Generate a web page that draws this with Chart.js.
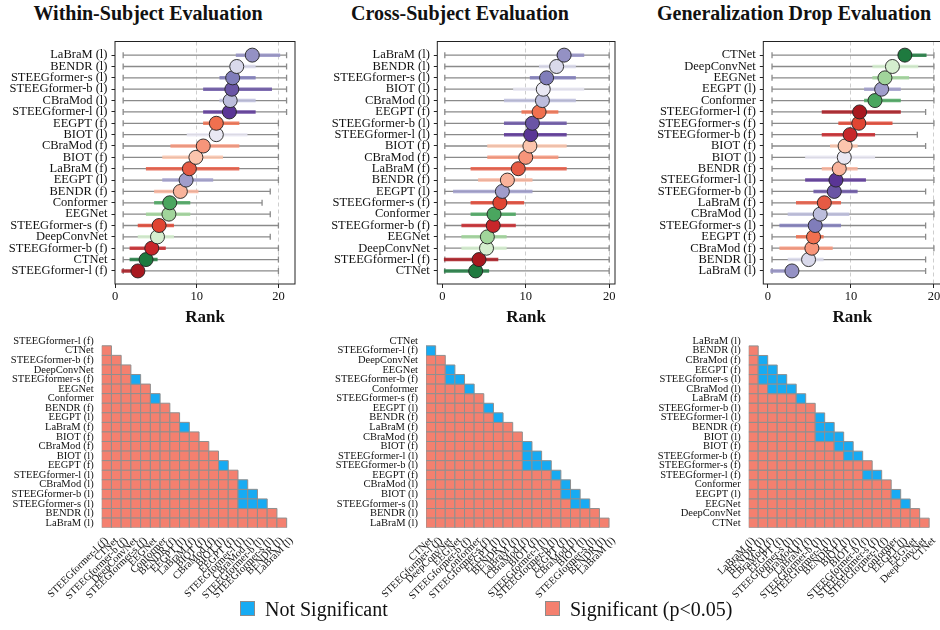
<!DOCTYPE html>
<html>
<head>
<meta charset="utf-8">
<script src="https://cdn.jsdelivr.net/npm/chart.js@4.4.0/dist/chart.umd.min.js"></script>
<style>
  body { margin: 0; background: #fff; overflow: hidden; font-family: "Liberation Serif", "Times New Roman", serif; }
  #fig { position: relative; width: 940px; height: 630px; }
  #fig canvas { position: absolute; }
  .title { position: absolute; top: 3px; font-size: 20px; line-height: 20px; font-weight: bold; color: #111; white-space: nowrap; transform: translateX(-50%); }
  .key { position: absolute; top: 601px; width: 13px; height: 13px; border: 1px solid #8c8c8c; }
  .keytext { position: absolute; top: 599px; font-size: 20px; line-height: 20px; color: #111; white-space: nowrap; }
</style>
</head>
<body>
<div id="fig">
  <div class="title" style="left:148px">Within-Subject Evaluation</div>
  <div class="title" style="left:460px">Cross-Subject Evaluation</div>
  <div class="title" style="left:794px">Generalization Drop Evaluation</div>

  <canvas id="rankWithin" width="305" height="300" style="left:0px;top:30px"></canvas>
  <canvas id="rankCross" width="320" height="300" style="left:305px;top:30px"></canvas>
  <canvas id="rankDrop" width="320" height="300" style="left:630px;top:30px"></canvas>

  <canvas id="sigWithin" width="310" height="278" style="left:0px;top:322px"></canvas>
  <canvas id="sigCross" width="330" height="278" style="left:300px;top:322px"></canvas>
  <canvas id="sigDrop" width="320" height="278" style="left:630px;top:322px"></canvas>

  <div id="legend"></div>
</div>

<script>
// models listed from lowest to highest mean rank, one list per evaluation
const withinModels = ['STEEGformer-l (f)', 'CTNet', 'STEEGformer-b (f)', 'DeepConvNet', 'STEEGformer-s (f)', 'EEGNet', 'Conformer', 'BENDR (f)', 'EEGPT (l)', 'LaBraM (f)', 'BIOT (f)', 'CBraMod (f)', 'BIOT (l)', 'EEGPT (f)', 'STEEGformer-l (l)', 'CBraMod (l)', 'STEEGformer-b (l)', 'STEEGformer-s (l)', 'BENDR (l)', 'LaBraM (l)'];
const withinMean = [2.8, 3.8, 4.5, 5.2, 5.4, 6.6, 6.7, 8.0, 8.7, 9.1, 9.9, 10.8, 12.4, 12.4, 14.0, 14.1, 14.3, 14.4, 14.9, 16.8];
const withinQ1 = [1, 2, 2, 3, 3, 4, 5, 5, 6, 4, 6, 7, 9, 11, 11, 13, 11, 13, 14.2, 15];
const withinQ3 = [3, 5, 6, 7, 7, 9, 9, 10, 11.8, 15, 13, 15, 16, 15, 17, 17, 19, 17, 17, 20];
const withinLow = [1, 1, 1, 1, 1, 1, 1, 1, 1, 1, 1, 1, 1, 1, 1, 1, 1, 1, 1, 1];
const withinHigh = [20, 20, 20, 19, 20, 19, 18, 19, 20, 20, 20, 20, 20, 20, 21, 21, 21, 21, 21, 21];

const crossModels = ['CTNet', 'STEEGformer-l (f)', 'DeepConvNet', 'EEGNet', 'STEEGformer-b (f)', 'Conformer', 'STEEGformer-s (f)', 'EEGPT (l)', 'BENDR (f)', 'LaBraM (f)', 'CBraMod (f)', 'BIOT (f)', 'STEEGformer-l (l)', 'STEEGformer-b (l)', 'EEGPT (f)', 'CBraMod (l)', 'BIOT (l)', 'STEEGformer-s (l)', 'BENDR (l)', 'LaBraM (l)'];
const crossMean = [4.0, 4.4, 5.3, 5.4, 6.1, 6.2, 6.9, 7.2, 7.8, 9.1, 10.0, 10.5, 10.6, 10.8, 11.6, 12.0, 12.1, 12.5, 13.7, 14.6];
const crossQ1 = [0.4, 0.4, 2.5, 2.5, 2.5, 3.6, 3.6, 1.5, 4.5, 3.6, 5.6, 5.6, 7.6, 7.6, 9.7, 7.6, 8.7, 10.7, 11.8, 13.9];
const crossQ3 = [5.4, 6.5, 7.5, 7.5, 8.6, 8.6, 9.6, 10.6, 10.6, 14.7, 13.7, 14.7, 14.7, 14.7, 13.7, 15.8, 16.8, 15.8, 15.8, 16.8];
const crossLow = [0.3, 0.3, 0.3, 0.3, 0.3, 0.3, 0.3, 0.3, 0.3, 0.3, 0.3, 0.3, 0.3, 0.3, 0.3, 0.3, 0.3, 0.3, 0.3, 0.3];
const crossHigh = [20, 20, 20, 20, 20, 20, 20, 20, 20, 20, 20, 20, 20, 20, 20, 20, 20, 20, 20, 20];

const dropModels = ['LaBraM (l)', 'BENDR (l)', 'CBraMod (f)', 'EEGPT (f)', 'STEEGformer-s (l)', 'CBraMod (l)', 'LaBraM (f)', 'STEEGformer-b (l)', 'STEEGformer-l (l)', 'BENDR (f)', 'BIOT (l)', 'BIOT (f)', 'STEEGformer-b (f)', 'STEEGformer-s (f)', 'STEEGformer-l (f)', 'Conformer', 'EEGPT (l)', 'EEGNet', 'DeepConvNet', 'CTNet'];
const dropMean = [2.9, 4.9, 5.3, 5.5, 5.7, 6.3, 6.8, 8.0, 8.2, 8.6, 9.2, 9.3, 9.9, 10.95, 11.05, 12.9, 13.7, 14.1, 15.0, 16.5];
const dropQ1 = [0.5, 2.6, 1.6, 3.6, 1.6, 2.6, 3.6, 5.7, 4.7, 6.7, 4.7, 7.7, 6.7, 8.7, 6.7, 11.8, 11.8, 12.8, 12.8, 16.7];
const dropQ3 = [2.9, 6.5, 7.6, 6.5, 8.6, 9.6, 8.6, 10.6, 11.6, 10.6, 12.7, 10.6, 12.7, 14.8, 15.8, 15.8, 15.8, 16.8, 17.9, 18.9];
const dropLow = [0.5, 0.5, 0.5, 0.5, 0.5, 0.5, 0.5, 0.5, 0.5, 0.5, 0.5, 0.5, 0.5, 0.5, 0.5, 0.5, 0.5, 0.5, 0.5, 0.5];
const dropHigh = [19, 19, 20, 19, 19, 20, 20, 19, 20, 20, 20, 19, 18, 20, 19, 20, 20, 20, 20, 20];

const rankTicks = [0, 10, 20];

// pairwise tests that were not significant: [row, column] in the model order above
const withinNotSig = [[4, 3], [6, 5], [9, 8], [13, 12], [15, 14], [16, 14], [16, 15], [17, 14], [17, 15], [17, 16]];
const crossNotSig = [[1, 0], [3, 2], [4, 2], [4, 3], [5, 4], [7, 6], [8, 7], [11, 10], [12, 10], [12, 11], [13, 10], [13, 11], [13, 12], [14, 13], [15, 14], [16, 14], [16, 15], [17, 15], [17, 16]];
const dropNotSig = [[2, 1], [3, 1], [3, 2], [4, 1], [4, 2], [4, 3], [5, 2], [5, 3], [5, 4], [6, 5], [8, 7], [9, 7], [9, 8], [10, 7], [10, 8], [10, 9], [11, 9], [11, 10], [12, 10], [12, 11], [14, 12], [14, 13], [16, 15], [17, 16]];

const sigLabels = ['Not Significant', 'Significant (p<0.05)'];

// colour per model: purples for linear probing, reds for fine-tuning, greens for supervised baselines
const modelColors = {
  'LaBraM (l)': '#9491c4', 'BENDR (l)': '#d9d9eb', 'STEEGformer-s (l)': '#807dba', 'STEEGformer-b (l)': '#6a55a5',
  'CBraMod (l)': '#bcbddc', 'STEEGformer-l (l)': '#5a3596', 'BIOT (l)': '#e9e8f3', 'EEGPT (l)': '#a09dcb',
  'EEGPT (f)': '#f0704f', 'CBraMod (f)': '#f7957a', 'BIOT (f)': '#fcc5ad', 'LaBraM (f)': '#e65a44',
  'BENDR (f)': '#f9b39b', 'STEEGformer-s (f)': '#e04532', 'STEEGformer-b (f)': '#c7262a', 'STEEGformer-l (f)': '#a8181f',
  'Conformer': '#4aa65f', 'EEGNet': '#a1d59b', 'DeepConvNet': '#d5eecf', 'CTNet': '#1e7a3f'
};
const sigColors = ['#17abf3', '#f4806f'];

const serif = '"Liberation Serif", "Times New Roman", serif';

function withAlpha(hex, a) {
  const n = parseInt(hex.slice(1), 16);
  return `rgba(${n >> 16}, ${(n >> 8) & 255}, ${n & 255}, ${a})`;
}

// closed box around the plotting area
const frame = {
  id: 'frame',
  afterDraw(chart) {
    const { ctx, chartArea: a } = chart;
    ctx.save();
    ctx.strokeStyle = '#222';
    ctx.lineWidth = 1;
    ctx.strokeRect(a.left, a.top, a.width, a.height);
    ctx.restore();
  }
};

function rankChart(id, models, mean, q1, q3, low, high, xMin, xMax, box) {
  const datasets = [];
  datasets.push({
    data: models.map((m, i) => ({ x: mean[i], y: i })),
    showLine: false,
    pointRadius: 7,
    pointBackgroundColor: models.map(m => modelColors[m]),
    pointBorderColor: '#222',
    pointBorderWidth: 0.9,
    order: 0
  });
  models.forEach((m, i) => {
    datasets.push({
      data: [{ x: q1[i], y: i }, { x: q3[i], y: i }],
      showLine: true,
      borderColor: withAlpha(modelColors[m], 0.85),
      borderWidth: 3.5,
      borderCapStyle: 'square',
      pointRadius: 0,
      order: 1
    });
    datasets.push({
      data: [{ x: low[i], y: i }, { x: high[i], y: i }],
      showLine: true,
      borderColor: '#8a8a8a',
      borderWidth: 1.3,
      pointStyle: 'line',
      pointRotation: 90,
      pointRadius: 3,
      pointBorderColor: '#8a8a8a',
      pointBorderWidth: 1.3,
      order: 2
    });
  });

  new Chart(document.getElementById(id), {
    type: 'scatter',
    data: { datasets },
    plugins: [frame],
    options: {
      responsive: false,
      animation: false,
      events: [],
      devicePixelRatio: 1,
      layout: { padding: { top: 8.3, right: box.padRight, left: 0, bottom: 0 } },
      plugins: { legend: { display: false }, tooltip: { enabled: false } },
      scales: {
        x: {
          type: 'linear',
          min: xMin,
          max: xMax,
          afterBuildTicks: s => { s.ticks = rankTicks.map(v => ({ value: v })); },
          afterFit: s => { s.height = 46; },
          ticks: { font: { family: serif, size: 12.5 }, color: '#111', padding: 1.5 },
          grid: {
            color: c => (c.tick && c.tick.value === 0) ? 'rgba(0,0,0,0)' : '#c8c8c8',
            lineWidth: 0.9,
            tickColor: '#222',
            tickLength: 4,
            tickWidth: 1
          },
          border: { display: false, dash: [4, 3] },
          title: {
            display: true,
            text: 'Rank',
            font: { family: serif, size: 17, weight: 'bold' },
            color: '#111',
            padding: { top: 0, bottom: 1.8 }
          }
        },
        y: {
          type: 'linear',
          min: -1.15,
          max: 20.2,
          afterBuildTicks: s => { s.ticks = models.map((m, i) => ({ value: i })); },
          afterFit: s => { s.width = box.axisW; },
          ticks: { autoSkip: false, callback: v => models[v], font: { family: serif, size: 12.5 }, color: '#111', padding: 4 },
          grid: { drawOnChartArea: false, tickColor: '#222', tickLength: 3.5, tickWidth: 1 },
          border: { display: false }
        }
      }
    }
  });
}

function sigChart(id, models, notSig, box) {
  const isNotSig = (i, j) => notSig.some(p => p[0] === i && p[1] === j);
  const cells = [[], []];
  for (let i = 1; i < models.length; i++) {
    for (let j = 0; j < i; j++) {
      cells[isNotSig(i, j) ? 0 : 1].push({ x: j, y: i });
    }
  }
  // square marker side equals one column of the x scale
  const cellRadius = c => {
    const s = c.chart.scales.x;
    return Math.abs(s.getPixelForValue(1) - s.getPixelForValue(0)) / Math.SQRT2;
  };
  const axisFont = { family: serif, size: 10.5 };

  new Chart(document.getElementById(id), {
    type: 'scatter',
    data: {
      datasets: sigLabels.map((label, k) => ({
        label,
        data: cells[k],
        pointStyle: 'rect',
        pointRadius: cellRadius,
        pointBackgroundColor: sigColors[k],
        pointBorderColor: '#8f8f8f',
        pointBorderWidth: 1
      }))
    },
    options: {
      responsive: false,
      animation: false,
      events: [],
      devicePixelRatio: 1,
      layout: { padding: { top: 10.6, right: box.padRight, left: 0, bottom: 0 } },
      plugins: { legend: { display: false }, tooltip: { enabled: false } },
      scales: {
        x: {
          type: 'linear',
          min: -0.5,
          max: models.length - 0.5,
          afterBuildTicks: s => { s.ticks = models.map((m, i) => ({ value: i })); },
          afterFit: s => { s.height = 72.3; },
          ticks: { autoSkip: false, minRotation: 45, maxRotation: 45, callback: v => models[v], font: axisFont, color: '#111', padding: 7 },
          grid: { display: false, drawTicks: false },
          border: { display: false }
        },
        y: {
          type: 'linear',
          reverse: true,
          min: -0.5,
          max: models.length - 0.5,
          afterBuildTicks: s => { s.ticks = models.map((m, i) => ({ value: i })); },
          afterFit: s => { s.width = box.axisW; },
          ticks: { autoSkip: false, callback: v => models[v], font: axisFont, color: '#111', padding: 8 },
          grid: { display: false, drawTicks: false },
          border: { display: false }
        }
      }
    }
  });
}

rankChart('rankWithin', withinModels, withinMean, withinQ1, withinQ3, withinLow, withinHigh, 0, 22.03, { axisW: 115, padRight: 10 });
rankChart('rankCross', crossModels, crossMean, crossQ1, crossQ3, crossLow, crossHigh, -0.6, 20.7, { axisW: 132.3, padRight: 10 });
rankChart('rankDrop', dropModels, dropMean, dropQ1, dropQ3, dropLow, dropHigh, -0.55, 20.9, { axisW: 133.3, padRight: 8.6 });

sigChart('sigWithin', withinModels, withinNotSig, { axisW: 101.7, padRight: 13.6 });
sigChart('sigCross', crossModels, crossNotSig, { axisW: 126, padRight: 8.6 });
sigChart('sigDrop', dropModels, dropNotSig, { axisW: 118.7, padRight: 6.9 });

// shared key for the significance matrices
const legend = document.getElementById('legend');
const keyLeft = [240, 545];
sigLabels.forEach((label, k) => {
  const sw = document.createElement('div');
  sw.className = 'key';
  sw.style.left = keyLeft[k] + 'px';
  sw.style.background = sigColors[k];
  legend.appendChild(sw);
  const txt = document.createElement('div');
  txt.className = 'keytext';
  txt.style.left = (keyLeft[k] + 25) + 'px';
  txt.textContent = label;
  legend.appendChild(txt);
});
</script>
</body>
</html>
